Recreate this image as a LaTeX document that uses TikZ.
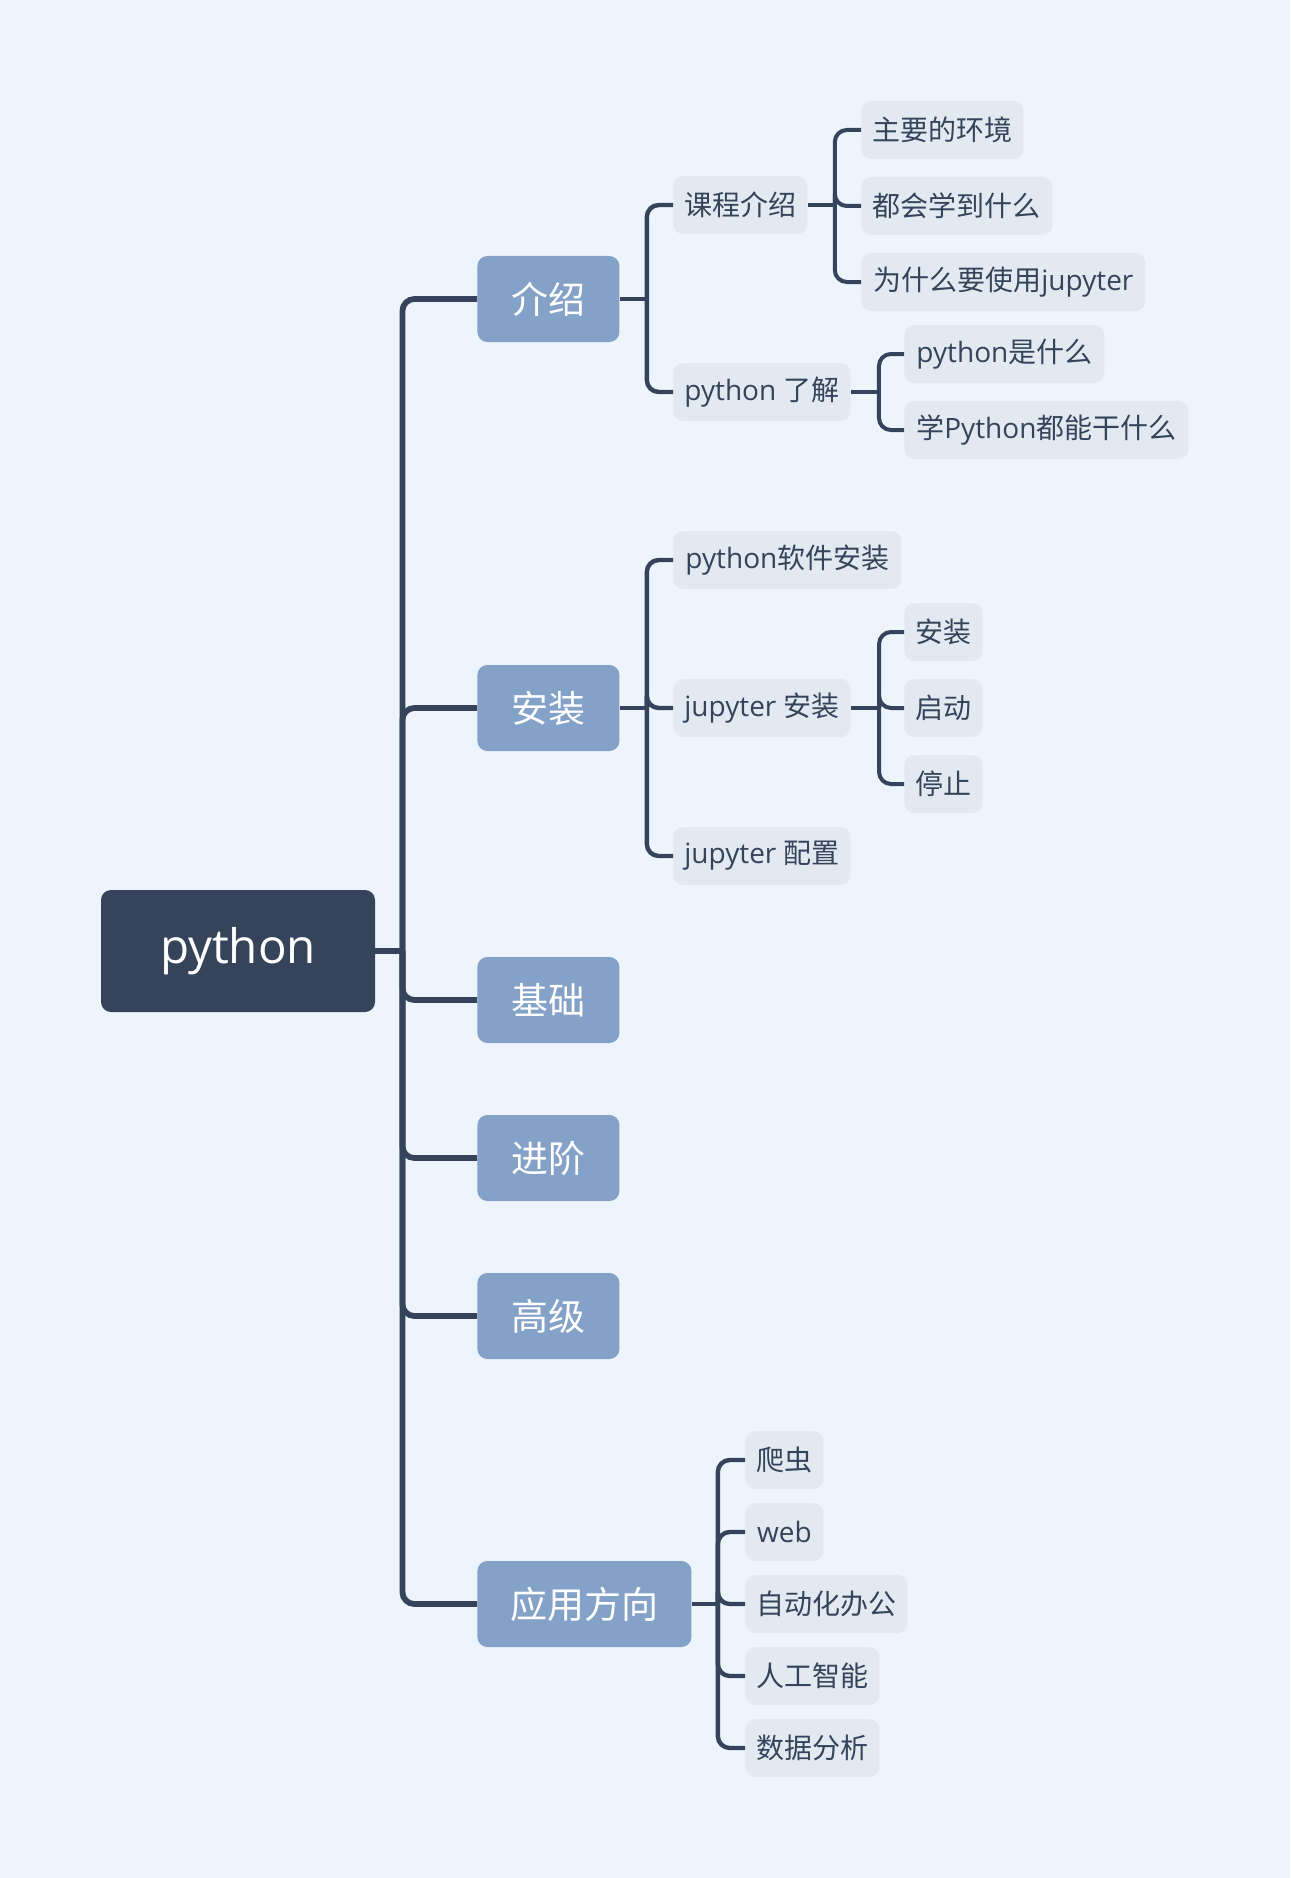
\documentclass[tikz,border=0pt]{standalone}
\usepackage{fontspec}
\setmainfont{Open Sans}
\newfontfamily\cjk{Noto Sans CJK SC}
\definecolor{bgc}{HTML}{EDF4FB}
\definecolor{rootc}{HTML}{35445A}
\definecolor{onec}{HTML}{84A1C8}
\definecolor{twoc}{HTML}{E2E9F1}
\definecolor{linec}{HTML}{35445A}
\tikzset{
  rootbox/.style={fill=rootc, text=white, rounded corners=5pt, minimum width=137pt, minimum height=61pt, inner sep=0pt, font=\fontsize{23.75}{28}\selectfont},
  onebox/.style={fill=onec, text=white, rounded corners=5pt, minimum width=71pt, minimum height=43pt, inner xsep=16.5pt, inner ysep=0pt, anchor=west, font=\fontsize{18.5}{22}\selectfont\cjk},
  twobox/.style={fill=twoc, text=linec, rounded corners=5pt, minimum height=29pt, inner xsep=5.5pt, inner ysep=0pt, anchor=west, font=\fontsize{14}{17}\selectfont},
  trunk/.style={draw=linec, line width=2.9pt, rounded corners=6pt},
  branch/.style={draw=linec, line width=2.2pt, rounded corners=6pt},
  twig/.style={draw=linec, line width=2pt, rounded corners=6pt}
}
\begin{document}
\begin{tikzpicture}[x=0.5pt,y=-0.5pt]
\fill[bgc] (0,0) rectangle (1290,1878);
\useasboundingbox (0,0) rectangle (1290,1878);

% root
\node[rootbox] (root) at (238,951) {python};

% level 1
\node[onebox] (a) at (477,299) {介绍};
\node[onebox] (b) at (477,708) {安装};
\node[onebox] (c) at (477,1000) {基础};
\node[onebox] (d) at (477,1158) {进阶};
\node[onebox] (e) at (477,1316) {高级};
\node[onebox] (f) at (477,1604) {应用方向};

% level 2 under 介绍
\node[twobox, minimum width=67pt] (a1) at (673,205) {\cjk 课程介绍};
\node[twobox, minimum width=88.5pt] (a2) at (673,392) {python {\cjk 了解}};
\node[twobox, minimum width=81pt] (a11) at (861,130) {\cjk 主要的环境};
\node[twobox, minimum width=95.5pt] (a12) at (861,206) {\cjk 都会学到什么};
\node[twobox, minimum width=142pt] (a13) at (861,282) {{\cjk 为什么要使用}jupyter};
\node[twobox, minimum width=100pt] (a21) at (904,354) {python{\cjk 是什么}};
\node[twobox, minimum width=142pt] (a22) at (904,430) {{\cjk 学}Python{\cjk 都能干什么}};

% level 2 under 安装
\node[twobox, minimum width=114pt] (b1) at (673,560) {python{\cjk 软件安装}};
\node[twobox, minimum width=88.5pt] (b2) at (673,708) {jupyter {\cjk 安装}};
\node[twobox, minimum width=88.5pt] (b3) at (673,856) {jupyter {\cjk 配置}};
\node[twobox, minimum width=39pt] (b21) at (904,632) {\cjk 安装};
\node[twobox, minimum width=39pt] (b22) at (904,708) {\cjk 启动};
\node[twobox, minimum width=39pt] (b23) at (904,784) {\cjk 停止};

% level 2 under 应用方向
\node[twobox, minimum width=39pt] (f1) at (745,1460) {\cjk 爬虫};
\node[twobox, minimum width=39pt] (f2) at (745,1532) {web};
\node[twobox, minimum width=81pt] (f3) at (745,1604) {\cjk 自动化办公};
\node[twobox, minimum width=67pt] (f4) at (745,1676) {\cjk 人工智能};
\node[twobox, minimum width=67pt] (f5) at (745,1748) {\cjk 数据分析};

% junction points
\coordinate (rj) at ([xshift=13.5pt]root.east);
\coordinate (aj) at ([xshift=13.5pt]a.east);
\coordinate (bj) at ([xshift=13.5pt]b.east);
\coordinate (fj) at ([xshift=13pt]f.east);
\coordinate (a1j) at ([xshift=13.5pt]a1.east);
\coordinate (a2j) at ([xshift=14pt]a2.east);
\coordinate (b2j) at ([xshift=14pt]b2.east);

% trunk connectors
\draw[trunk] (root.east) -- (rj);
\foreach \t in {a,b,c,d,e,f}
  \draw[trunk] (rj) |- (\t.west);

% level-1 to level-2
\draw[branch] (a.east) -- (aj);
\foreach \t in {a1,a2}
  \draw[branch] (aj) |- (\t.west);
\draw[branch] (b.east) -- (bj);
\foreach \t in {b1,b2,b3}
  \draw[branch] (bj) |- (\t.west);
\draw[branch] (f.east) -- (fj);
\foreach \t in {f1,f2,f3,f4,f5}
  \draw[branch] (fj) |- (\t.west);

% level-2 to level-3
\draw[twig] (a1.east) -- (a1j);
\foreach \t in {a11,a12,a13}
  \draw[twig] (a1j) |- (\t.west);
\draw[twig] (a2.east) -- (a2j);
\foreach \t in {a21,a22}
  \draw[twig] (a2j) |- (\t.west);
\draw[twig] (b2.east) -- (b2j);
\foreach \t in {b21,b22,b23}
  \draw[twig] (b2j) |- (\t.west);
\end{tikzpicture}
\end{document}
